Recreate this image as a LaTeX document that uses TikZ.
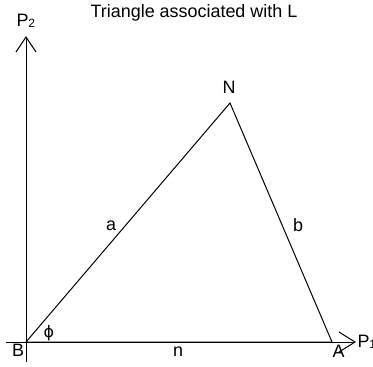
\documentclass[tikz,border=0pt]{standalone}
\usepackage{fontspec}
\setmainfont{Liberation Sans}
\newfontfamily\phifont{DejaVu Sans}
\usetikzlibrary{calc}
\begin{document}
\begin{tikzpicture}[x=1bp,y=-1bp,line width=1bp,line join=miter,
  lbl/.style={inner sep=0pt,font=\fontsize{18}{20}\selectfont},
  axis/.style={line width=1bp}]
\useasboundingbox (0,0) rectangle (373,367);
% vertices
\coordinate (B) at (26,342);
\coordinate (A) at (332,342);
\coordinate (N) at (230,103);
% axes ends
\coordinate (Yb) at (26,362);
\coordinate (Yt) at (26,37);
\coordinate (Xl) at (6,342);
\coordinate (Xr) at (355,342);
% axes
\draw[axis] (Yb) -- (Yt);
\draw[axis] ($(Yt)+(-10,15)$) -- (Yt) -- ($(Yt)+(10,15)$);
\draw[axis] (Xl) -- (Xr);
\draw[axis] ($(Xr)+(-16,-10)$) -- (Xr) -- ($(Xr)+(-16,10)$);
% triangle
\draw (B) -- (N) -- (A) -- cycle;
% labels
\node[lbl,anchor=base] (title) at (194,17.5) {Triangle associated with L};
\node[lbl,anchor=base west] (p2) at (16,26) {P\raisebox{-1.5bp}{\fontsize{12}{12}\selectfont 2}};
\node[lbl,anchor=base west] (p1) at (357,347) {P\raisebox{-1.5bp}{\fontsize{12}{12}\selectfont 1}};
\node[lbl,anchor=base] (nl) at (229,93) {N};
\node[lbl,anchor=base] (al) at (111,230) {a};
\node[lbl,anchor=base] (bl) at (298,231) {b};
\node[lbl,anchor=base] (nn) at (178,356) {n};
\node[lbl,anchor=base] (bb) at (18,356) {B};
\node[lbl,anchor=base] (aa) at (338.5,357) {A};
\node[lbl,anchor=center,font=\phifont\fontsize{16}{18}\selectfont] (phi) at (49,333) {ϕ};
\end{tikzpicture}
\end{document}
